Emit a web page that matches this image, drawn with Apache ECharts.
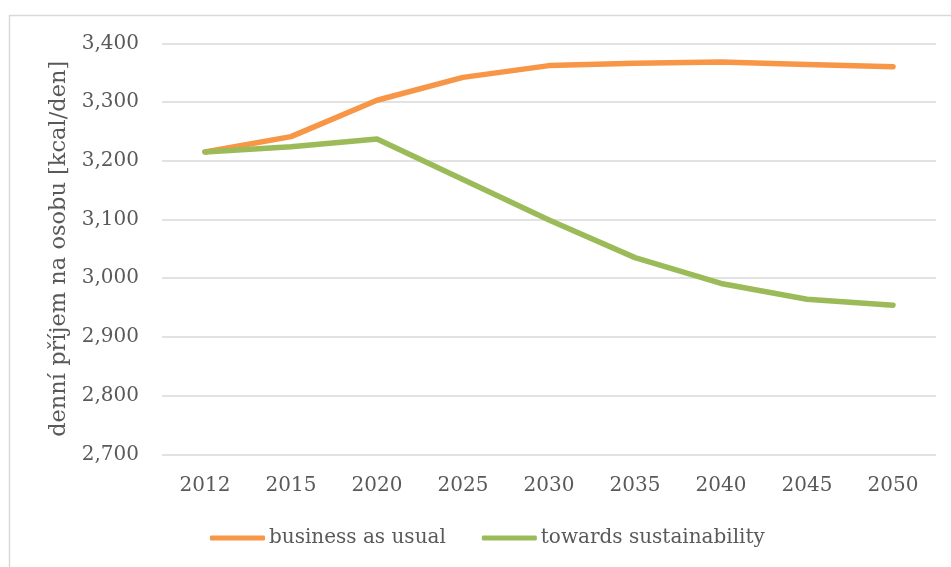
<!DOCTYPE html>
<html>
<head>
<meta charset="utf-8">
<script src="https://cdn.jsdelivr.net/npm/echarts@6/dist/echarts.min.js"></script>
<style>
  html, body { margin: 0; padding: 0; background: #fff; }
  #chart { width: 951px; height: 567px; }
</style>
</head>
<body>
<div id="chart"></div>
<script>
// Daily food energy intake per person, two scenarios
const years = ['2012', '2015', '2020', '2025', '2030', '2035', '2040', '2045', '2050'];
const businessAsUsual = [3215, 3241, 3303, 3342, 3362, 3366, 3368, 3364, 3360];
const towardsSustainability = [3215, 3224, 3237, 3168, 3099, 3035, 2991, 2964, 2954];
const seriesNames = ['business as usual', 'towards sustainability'];
const yAxisTitle = 'denní příjem na osobu [kcal/den]';

const FONT = '"DejaVu Serif", serif';
const TEXT = '#595959';

const chart = echarts.init(document.getElementById('chart'), null, { renderer: 'canvas' });
chart.setOption({
  backgroundColor: '#fff',
  animation: false,
  textStyle: { fontFamily: FONT, color: TEXT },
  graphic: [{
    type: 'rect',
    shape: { x: 9.5, y: 15.5, width: 1200, height: 800 },
    style: { fill: 'none', stroke: '#d9d9d9', lineWidth: 1.5 },
    silent: true, z: -1
  }],
  grid: { left: 162, right: 15, top: 43.3, bottom: 112.7, containLabel: false },
  legend: {
    top: 523,
    left: 205,
    itemWidth: 55,
    itemHeight: 5,
    itemGap: 36,
    icon: 'roundRect',
    textStyle: { fontFamily: FONT, fontSize: 20, color: TEXT, padding: [0, 0, 0, -1] },
    data: seriesNames
  },
  xAxis: {
    type: 'category',
    data: years,
    boundaryGap: true,
    axisLine: { show: false },
    axisTick: { show: false },
    axisLabel: { fontFamily: FONT, fontSize: 20, color: TEXT, margin: 21 }
  },
  yAxis: {
    type: 'value',
    min: 2700, max: 3400, interval: 100,
    name: yAxisTitle,
    nameLocation: 'middle',
    nameRotate: 90,
    nameGap: 86,
    nameTextStyle: { fontFamily: FONT, fontSize: 22.5, color: TEXT },
    axisLine: { show: false },
    axisTick: { show: false },
    axisLabel: {
      fontFamily: FONT, fontSize: 20, color: TEXT, margin: 23,
      formatter: v => v.toLocaleString('en-US')
    },
    splitLine: { lineStyle: { color: '#d9d9d9', width: 1.5 } }
  },
  series: [
    {
      name: seriesNames[0], type: 'line', data: businessAsUsual,
      symbol: 'none', color: '#F79646',
      lineStyle: { width: 5.5, cap: 'round', join: 'round' }, z: 3
    },
    {
      name: seriesNames[1], type: 'line', data: towardsSustainability,
      symbol: 'none', color: '#9BBB59',
      lineStyle: { width: 5.5, cap: 'round', join: 'round' }, z: 4
    }
  ]
});
</script>
</body>
</html>
